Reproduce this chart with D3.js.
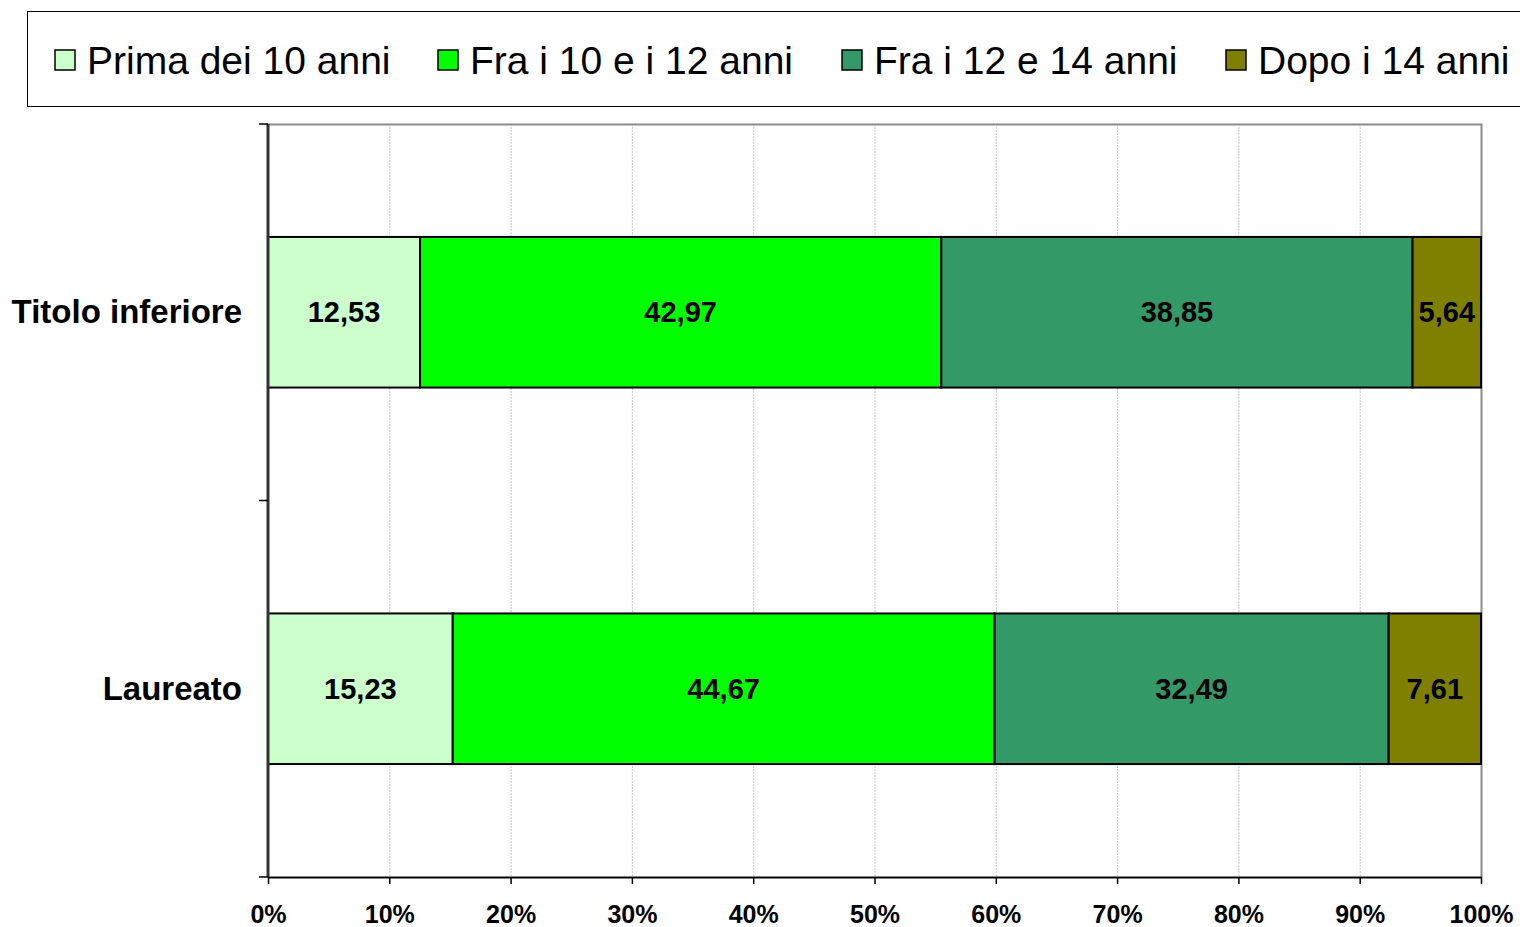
<!DOCTYPE html>
<html>
<head>
<meta charset="utf-8">
<script src="https://cdn.jsdelivr.net/npm/d3@7"></script>
<style>
  body { margin: 0; background: #fff; overflow: hidden; }
  svg { font-family: "Liberation Sans", Arial, sans-serif; display: block; }
</style>
</head>
<body>
<div id="chart"></div>
<script>
const categories = ["Titolo inferiore", "Laureato"];
const series = ["Prima dei 10 anni", "Fra i 10 e i 12 anni", "Fra i 12 e 14 anni", "Dopo i 14 anni"];
const colors = ["#CCFFCC", "#00FF00", "#339966", "#808000"];
const prima = [12.53, 15.23];
const fra1012 = [42.97, 44.67];
const fra1214 = [38.85, 32.49];
const dopo = [5.64, 7.61];
const xTicks = [0, 10, 20, 30, 40, 50, 60, 70, 80, 90, 100];

const values = [prima, fra1012, fra1214, dopo];
const width = 1520, height = 927;
const plotLeft = 268, plotRight = 1481, plotTop = 124, plotBottom = 877;

const svg = d3.select("#chart").append("svg")
    .attr("width", width)
    .attr("height", height);

// rows for stacking
const rows = categories.map((c, i) => {
    const r = { cat: c };
    series.forEach((s, j) => r[s] = values[j][i]);
    return r;
});
const stacked = d3.stack().keys(series).offset(d3.stackOffsetExpand)(rows);

const x = d3.scaleLinear().domain([0, 1]).range([plotLeft, plotRight]);
const y = d3.scaleBand().domain(categories).range([plotTop, plotBottom]).paddingInner(0.6).paddingOuter(0.3);

// gridlines
svg.append("g")
    .selectAll("line")
    .data(xTicks.slice(1, -1))
    .enter().append("line")
    .attr("x1", d => x(d / 100) + 0.5)
    .attr("x2", d => x(d / 100) + 0.5)
    .attr("y1", plotTop)
    .attr("y2", plotBottom)
    .attr("stroke", "#c8c8c8")
    .attr("stroke-width", 1)
    .attr("stroke-dasharray", "2,1");

// plot border top/right
svg.append("path")
    .attr("d", `M${plotLeft},${plotTop + 0.5}H${plotRight + 0.5}V${plotBottom}`)
    .attr("fill", "none")
    .attr("stroke", "#8c8c8c")
    .attr("stroke-width", 2);

// bars
const layer = svg.selectAll(".layer")
    .data(stacked)
    .enter().append("g")
    .attr("fill", (d, i) => colors[i]);

layer.selectAll("rect")
    .data(d => d)
    .enter().append("rect")
    .attr("x", d => x(d[0]))
    .attr("y", d => y(d.data.cat))
    .attr("width", d => x(d[1]) - x(d[0]))
    .attr("height", y.bandwidth())
    .attr("stroke", "#000")
    .attr("stroke-width", 2);

// value labels
stacked.forEach((s, i) => {
    svg.append("g").selectAll("text")
        .data(s)
        .enter().append("text")
        .attr("x", d => (x(d[0]) + x(d[1])) / 2)
        .attr("y", d => y(d.data.cat) + y.bandwidth() / 2)
        .attr("dy", "0.34em")
        .attr("text-anchor", "middle")
        .style("font-size", "29px")
        .style("font-weight", "bold")
        .text(d => values[i][categories.indexOf(d.data.cat)].toFixed(2).replace(".", ","));
});

// x-axis
svg.append("g")
    .attr("transform", `translate(0, ${plotBottom})`)
    .call(d3.axisBottom(x).tickValues(xTicks.map(d => d / 100)).tickFormat(d => Math.round(d * 100) + "%").tickSize(7).tickSizeOuter(0))
    .call(g => g.select(".domain").attr("stroke", "#000").attr("stroke-width", 2))
    .call(g => g.selectAll(".tick line").attr("stroke", "#000").attr("stroke-width", 1.5))
    .call(g => g.selectAll(".tick text")
        .attr("y", 28)
        .attr("dy", "0.71em")
        .attr("fill", "#000")
        .style("font-size", "25px")
        .style("font-weight", "bold")
        .style("font-family", "'Liberation Sans', Arial, sans-serif"));

// y-axis with ticks at band boundaries
svg.append("line")
    .attr("x1", plotLeft).attr("x2", plotLeft)
    .attr("y1", plotTop).attr("y2", plotBottom)
    .attr("stroke", "#333").attr("stroke-width", 3);
svg.append("g").selectAll("line")
    .data([plotTop, (plotTop + plotBottom) / 2, plotBottom])
    .enter().append("line")
    .attr("x1", plotLeft - 9).attr("x2", plotLeft)
    .attr("y1", d => d).attr("y2", d => d)
    .attr("stroke", "#000").attr("stroke-width", 1.5);

svg.append("g").selectAll("text")
    .data(categories)
    .enter().append("text")
    .attr("x", 242)
    .attr("y", d => y(d) + y.bandwidth() / 2)
    .attr("dy", "0.34em")
    .attr("text-anchor", "end")
    .style("font-size", "33px")
    .style("font-weight", "bold")
    .text(d => d);

// legend
const legend = svg.append("g");
legend.append("rect")
    .attr("x", 27.5).attr("y", 11.5)
    .attr("width", 1510).attr("height", 95)
    .attr("fill", "#fff")
    .attr("stroke", "#000")
    .attr("stroke-width", 1);
const legendX = [55, 438, 842, 1226];
series.forEach((s, i) => {
    legend.append("rect")
        .attr("x", legendX[i]).attr("y", 50)
        .attr("width", 20).attr("height", 20)
        .attr("fill", colors[i])
        .attr("stroke", "#000")
        .attr("stroke-width", 1.5);
    legend.append("text")
        .attr("x", legendX[i] + 32)
        .attr("y", 60)
        .attr("dy", "0.36em")
        .style("font-size", "39px")
        .text(s);
});
</script>
</body>
</html>
